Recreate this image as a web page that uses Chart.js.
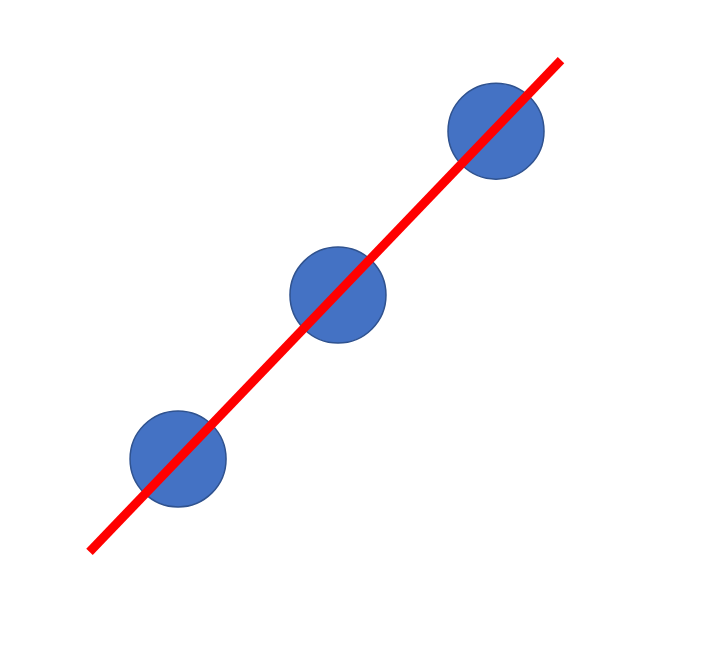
<!DOCTYPE html>
<html>
<head>
<meta charset="utf-8">
<style>
  html, body { margin: 0; padding: 0; background: #ffffff; }
  #wrap { width: 727px; height: 654px; }
</style>
<script src="https://cdn.jsdelivr.net/npm/chart.js@4/dist/chart.umd.min.js"></script>
</head>
<body>
<div id="wrap"><canvas id="c"></canvas></div>
<script>
// Data points (circles)
const pointX = [1, 2.006, 3];
const pointY = [1, 2, 3];
// Fitted line endpoints
const lineX = [0.443, 3.409];
const lineY = [0.433, 3.433];

const scatterData = pointX.map((x, i) => ({ x: x, y: pointY[i] }));
const lineData = lineX.map((x, i) => ({ x: x, y: lineY[i] }));

new Chart(document.getElementById('c'), {
  type: 'scatter',
  data: {
    datasets: [
      {
        type: 'line',
        label: 'Fit',
        data: lineData,
        borderColor: '#FF0000',
        borderWidth: 9,
        borderCapStyle: 'butt',
        pointRadius: 0,
        fill: false,
        showLine: true,
        clip: false,
        order: 0
      },
      {
        type: 'scatter',
        label: 'Points',
        data: scatterData,
        backgroundColor: '#4472C4',
        borderColor: '#2F528F',
        borderWidth: 1.5,
        pointRadius: 48,
        pointHoverRadius: 48,
        clip: false,
        order: 1
      }
    ]
  },
  options: {
    responsive: true,
    maintainAspectRatio: false,
    animation: false,
    layout: { padding: 0, autoPadding: false },
    plugins: { legend: { display: false }, tooltip: { enabled: false } },
    scales: {
      x: { type: 'linear', min: -0.12, max: 4.453, display: false },
      y: { type: 'linear', min: -0.19, max: 3.80, display: false }
    }
  }
});
</script>
</body>
</html>
